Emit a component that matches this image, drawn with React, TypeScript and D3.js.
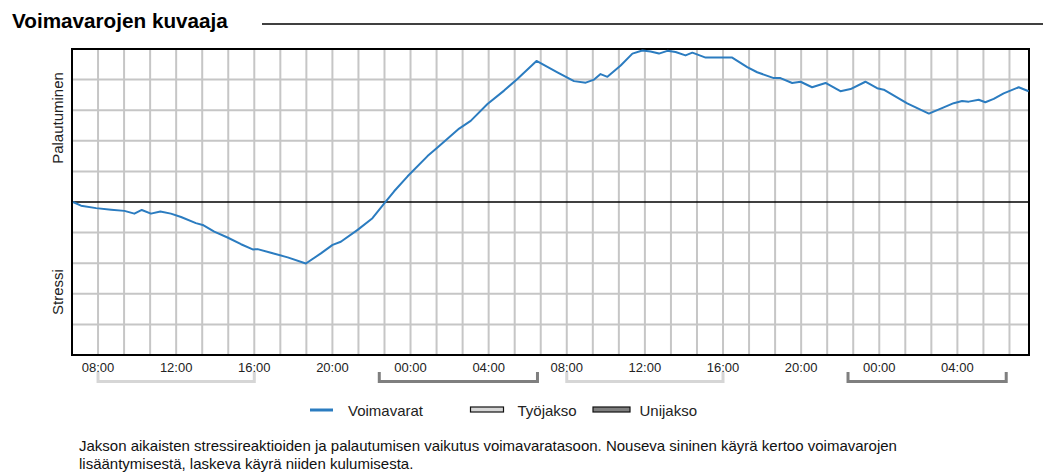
import React from "react";
import * as d3 from "d3";

// Hours since 00:00 of the first day
const timeHours = [
  6.72, 7.13, 7.9, 8.67, 9.35, 9.86, 10.24, 10.71, 11.19, 11.73, 12.25, 13.01, 13.36, 13.95,
  14.63, 15.32, 15.92, 16.17, 16.85, 17.71, 18.64, 19.41, 20.01, 20.43, 21.29, 22.05, 22.74,
  23.16, 23.85, 24.87, 25.38, 26.49, 27.08, 27.94, 28.79, 29.47, 30.45, 31.52, 32.37, 32.97,
  33.4, 33.73, 34.08, 34.76, 35.36, 35.87, 36.29, 36.72, 37.15, 37.57, 38.08, 38.43, 39.11,
  40.47, 41.24, 41.75, 42.6, 42.94, 43.54, 43.97, 44.56, 45.25, 46.01, 46.53, 47.29, 47.89,
  48.23, 49.43, 50.54, 51.3, 51.81, 52.24, 52.58, 53.09, 53.43, 53.86, 54.37, 55.14, 55.65,
];
const voimavarat = [
  0.0, -0.12, -0.2, -0.25, -0.29, -0.38, -0.26, -0.38, -0.31, -0.38, -0.49, -0.69, -0.75, -0.97,
  -1.16, -1.38, -1.55, -1.54, -1.66, -1.81, -2.01, -1.68, -1.4, -1.3, -0.91, -0.53, 0.02,
  0.35, 0.84, 1.5, 1.78, 2.4, 2.65, 3.2, 3.64, 4.02, 4.61, 4.24, 3.95, 3.9,
  4.0, 4.18, 4.09, 4.46, 4.85, 4.95, 4.92, 4.85, 4.94, 4.9, 4.79, 4.88, 4.72,
  4.72, 4.41, 4.24, 4.05, 4.05, 3.89, 3.93, 3.75, 3.89, 3.62, 3.69, 3.93, 3.72,
  3.67, 3.22, 2.89, 3.09, 3.23, 3.3, 3.28, 3.34, 3.26, 3.37, 3.55, 3.75, 3.62,
];

const tickHours = [8, 12, 16, 20, 24, 28, 32, 36, 40, 44, 48, 52];
const tickLabels = ["08:00", "12:00", "16:00", "20:00", "00:00", "04:00", "08:00", "12:00", "16:00", "20:00", "00:00", "04:00"];

const workPeriods = [[8, 16], [32, 40]];
const sleepPeriods = [[22.4, 30.5], [46.4, 54.5]];

const domainStart = 6 + 40 / 60;
const domainEnd = 55 + 40 / 60;

const title = "Voimavarojen kuvaaja";
const yLabelTop = "Palautuminen";
const yLabelBottom = "Stressi";
const legendLine = "Voimavarat";
const legendWork = "Työjakso";
const legendSleep = "Unijakso";
const caption1 = "Jakson aikaisten stressireaktioiden ja palautumisen vaikutus voimavaratasoon. Nouseva sininen käyrä kertoo voimavarojen";
const caption2 = "lisääntymisestä, laskeva käyrä niiden kulumisesta.";

const FONT = "Arial, 'Liberation Sans', sans-serif";
const BLUE = "#2b7cc0";
const GRID = "#c6c6c6";
const WORK = "#d6d6d6";
const SLEEP = "#7f7f7f";

export default function App() {
  const W = 1043, H = 472;
  const left = 72, right = 1029, top = 49, bottom = 355;
  const x = d3.scaleLinear().domain([domainStart, domainEnd]).range([left, right]);
  const y = d3.scaleLinear().domain([-5, 5]).range([bottom, top]);

  const vGrid = d3.range(1, 37).map((k) => domainStart + (k * 4) / 3);
  const hGrid = d3.range(-4, 5).filter((v) => v !== 0);

  const line = d3
    .line<number>()
    .x((_, i) => x(timeHours[i]))
    .y((d) => y(d))
    .curve(d3.curveLinear);

  const bracket = (a: number, b: number, color: string, key: string) => {
    const x0 = x(a), x1 = x(b);
    const yT = 372, yB = 381.5;
    return (
      <path
        key={key}
        d={`M${x0},${yT}L${x0},${yB}L${x1},${yB}L${x1},${yT}`}
        fill="none"
        stroke={color}
        strokeWidth={3}
      />
    );
  };

  return (
    <svg
      width={W}
      height={H}
      style={{ position: "absolute", left: 0, top: 0, background: "#fff" }}
      fontFamily={FONT}
    >
      <text x={12} y={27.5} fontSize={20.7} fontWeight="bold" fill="#000">{title}</text>
      <line x1={262} x2={1043} y1={24} y2={24} stroke="#000" strokeWidth={1.5} />

      {vGrid.map((t, i) => (
        <line key={"v" + i} x1={x(t)} x2={x(t)} y1={top} y2={bottom} stroke={GRID} strokeWidth={2} />
      ))}
      {hGrid.map((v) => (
        <line key={"h" + v} x1={left} x2={right} y1={y(v)} y2={y(v)} stroke={GRID} strokeWidth={2} />
      ))}
      <line x1={left} x2={right} y1={y(0)} y2={y(0)} stroke="#000" strokeWidth={1.6} />
      <rect x={left} y={top} width={right - left} height={bottom - top} fill="none" stroke="#000" strokeWidth={2} />

      <path d={line(voimavarat) || ""} fill="none" stroke={BLUE} strokeWidth={2} strokeLinejoin="round" />

      {tickHours.map((t, i) => (
        <text key={"t" + i} x={x(t)} y={371.5} fontSize={13} textAnchor="middle" fill="#222">{tickLabels[i]}</text>
      ))}

      {workPeriods.map((p, i) => bracket(p[0], p[1], WORK, "w" + i))}
      {sleepPeriods.map((p, i) => bracket(p[0], p[1], SLEEP, "s" + i))}

      <text transform="translate(63,118) rotate(-90)" fontSize={15} textAnchor="middle" fill="#222">{yLabelTop}</text>
      <text transform="translate(63,292) rotate(-90)" fontSize={15} textAnchor="middle" fill="#222">{yLabelBottom}</text>

      <line x1={310} x2={333} y1={410} y2={410} stroke={BLUE} strokeWidth={3} />
      <text x={348} y={415.5} fontSize={15} fill="#222">{legendLine}</text>
      <rect x={470.5} y={407} width={33} height={5} fill={WORK} stroke="#111" strokeWidth={1.2} />
      <text x={517.5} y={415.5} fontSize={15} fill="#222">{legendWork}</text>
      <rect x={593} y={407} width={37} height={5} fill={SLEEP} stroke="#111" strokeWidth={1.2} />
      <text x={639.5} y={415.5} fontSize={15} fill="#222">{legendSleep}</text>

      <text x={79} y={450.5} fontSize={15} fill="#111">{caption1}</text>
      <text x={79} y={469} fontSize={15} fill="#111">{caption2}</text>
    </svg>
  );
}
